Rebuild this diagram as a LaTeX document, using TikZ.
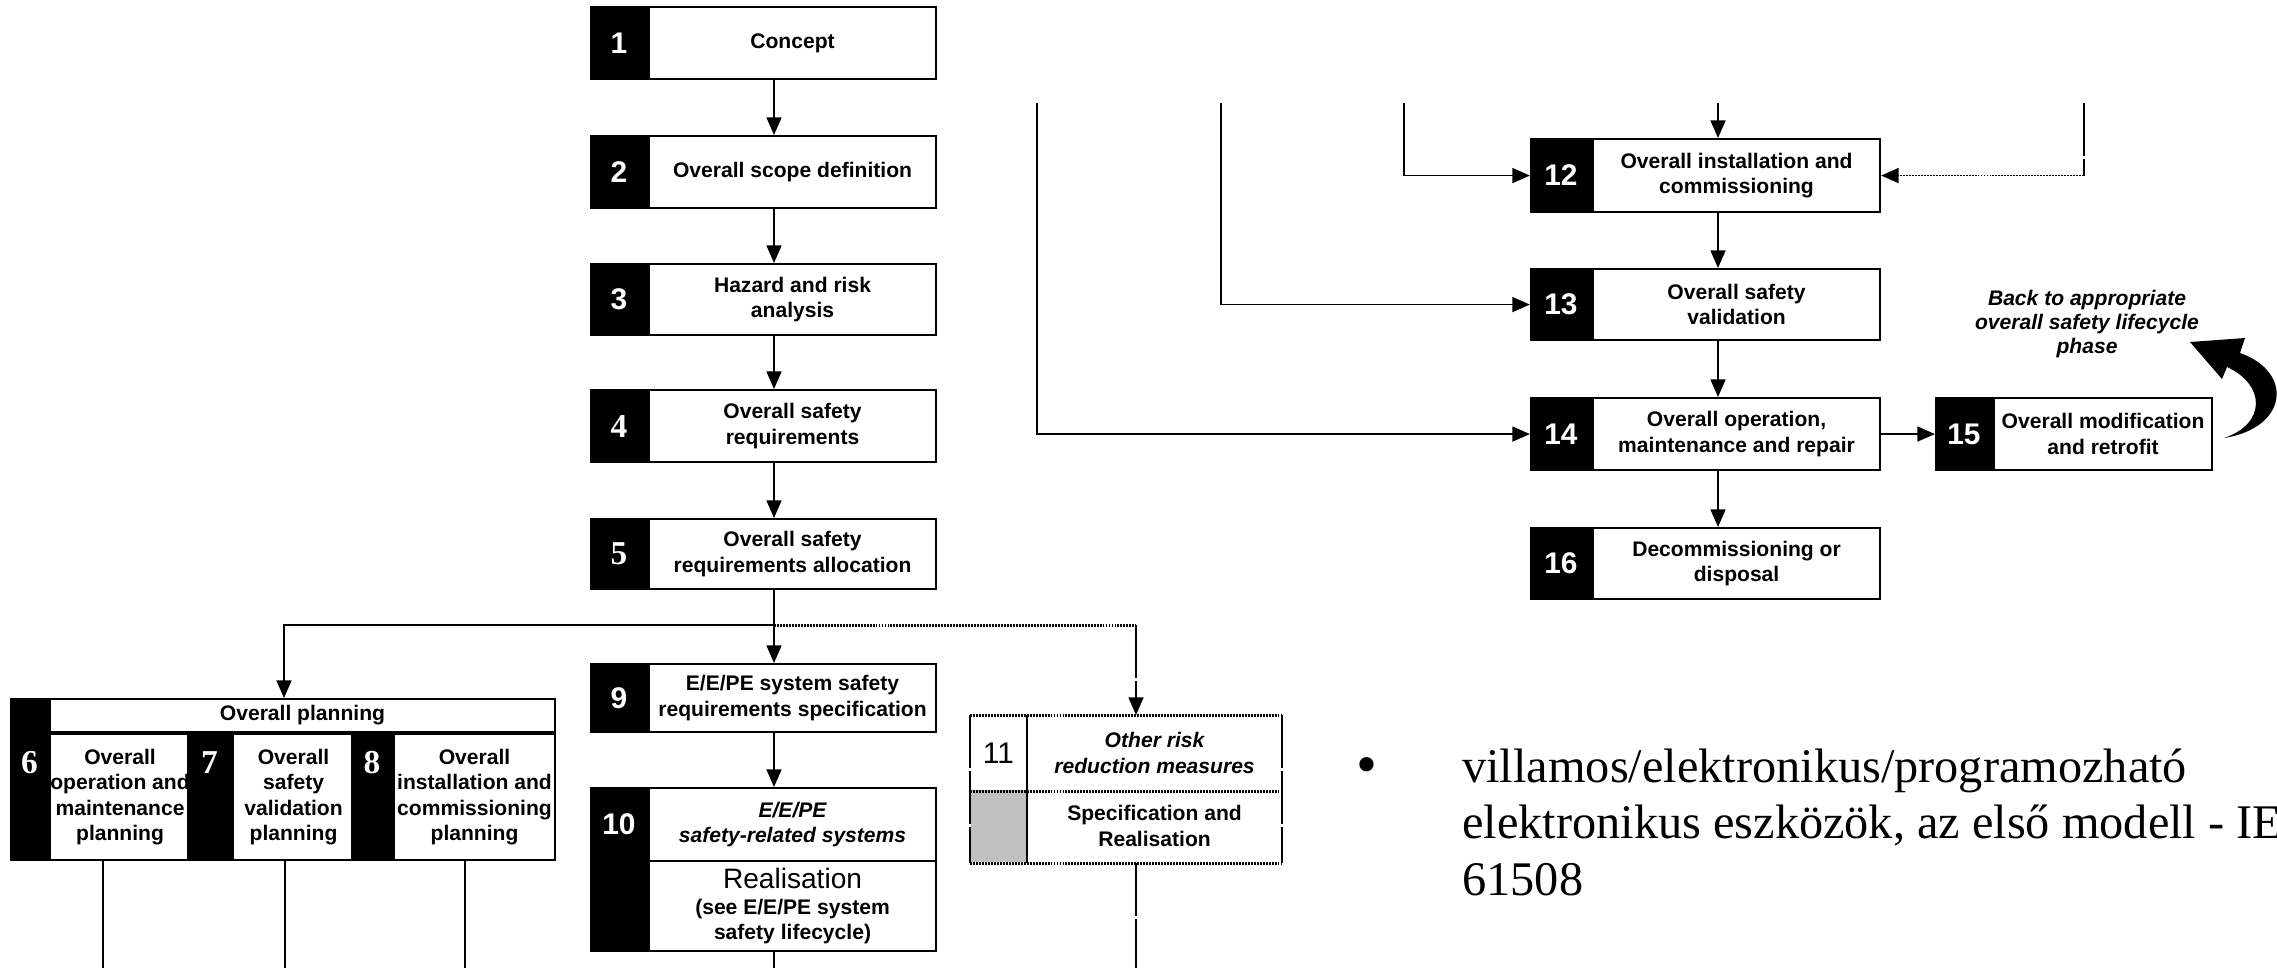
\documentclass[tikz,border=0pt]{standalone}
\usepackage{fontspec}
\setmainfont{Liberation Sans}
\newfontfamily\serifface{Liberation Serif}
\usetikzlibrary{arrows.meta,positioning}
\definecolor{cellgray}{HTML}{C0C0C0}
\begin{document}
\begin{tikzpicture}[x=0.02cm, y=-0.02cm]
  \tikzstyle{txt} = [draw, line width=1.2pt, fill=white, anchor=north west, align=center, inner sep=0pt, font=\fontsize{12}{14.5}\selectfont\bfseries]
  \tikzstyle{num} = [draw, line width=1.2pt, fill=black, text=white, anchor=north east, inner sep=0pt, font=\fontsize{17}{17}\selectfont\bfseries]
  \tikzstyle{numser} = [num, font=\fontsize{19}{19}\selectfont\serifface\bfseries]
  \tikzstyle{numlbl} = [text=white, inner sep=0pt, font=\fontsize{19}{19}\selectfont\serifface\bfseries]
  \tikzstyle{arr} = [-{Triangle[length=10pt,width=8.5pt]}, line width=1pt]
  \tikzstyle{dots} = [line width=1.7pt, dash pattern=on 1.1pt off 0.6pt]
  \tikzstyle{longdash} = [line width=1.1pt, dash pattern=on 30pt off 2pt]
  \useasboundingbox (0,0) rectangle (2277,968);

  % columns of the arrows
  \coordinate (mc) at (774,0);
  \coordinate (rc) at (1718,0);
  \coordinate (pc) at (284,0);
  \coordinate (sp) at (774,625);
  \coordinate (dc) at (1136,625);

  % phases 1-5
  \node[txt, minimum width=5.74cm, minimum height=1.44cm] (b1) at (648,6) {Concept};
  \node[num, minimum width=1.12cm, minimum height=1.44cm] (n1) at (b1.north west) {1};
  \node[txt, minimum width=5.74cm, minimum height=1.44cm] (b2) at (648,135) {Overall scope definition};
  \node[num, minimum width=1.12cm, minimum height=1.44cm] (n2) at (b2.north west) {2};
  \node[txt, minimum width=5.74cm, minimum height=1.42cm] (b3) at (648,263) {Hazard and risk\\analysis};
  \node[num, minimum width=1.12cm, minimum height=1.42cm] (n3) at (b3.north west) {3};
  \node[txt, minimum width=5.74cm, minimum height=1.44cm] (b4) at (648,389) {Overall safety\\requirements};
  \node[numser, minimum width=1.12cm, minimum height=1.44cm] (n4) at (b4.north west) {4};
  \node[txt, minimum width=5.74cm, minimum height=1.40cm] (b5) at (648,518) {Overall safety\\requirements allocation};
  \node[numser, minimum width=1.12cm, minimum height=1.40cm] (n5) at (b5.north west) {5};

  % overall planning 6-8
  \node[txt, minimum width=10.1cm, minimum height=0.66cm] (plan) at (49,698) {Overall planning};
  \node[num, minimum width=0.74cm, minimum height=0.66cm] (pk) at (plan.north west) {};
  \node[txt, minimum width=2.8cm, minimum height=2.52cm] (p6) at (49,733) {Overall\\operation and\\maintenance\\planning};
  \node[num, minimum width=0.74cm, minimum height=2.52cm] (n6) at (p6.north west) {};
  \node[numlbl, below=0.36cm of n6.north] (k6) {6};
  \node[txt, minimum width=2.42cm, minimum height=2.52cm] (p7) at (232,733) {Overall\\safety\\validation\\planning};
  \node[num, minimum width=0.86cm, minimum height=2.52cm] (n7) at (p7.north west) {};
  \node[numlbl, below=0.36cm of n7.north] (k7) {7};
  \node[txt, minimum width=3.22cm, minimum height=2.52cm] (p8) at (393,733) {Overall\\installation and\\commissioning\\planning};
  \node[num, minimum width=0.8cm, minimum height=2.52cm] (n8) at (p8.north west) {};
  \node[numlbl, below=0.36cm of n8.north] (k8) {8};

  % E/E/PE 9-10
  \node[txt, minimum width=5.74cm, minimum height=1.36cm] (b9) at (648,663) {E/E/PE system safety\\requirements specification};
  \node[num, minimum width=1.12cm, minimum height=1.36cm] (n9) at (b9.north west) {9};
  \node[txt, minimum width=5.74cm, minimum height=1.46cm, font=\fontsize{12}{14.5}\selectfont\bfseries\itshape] (b10) at (648,787) {E/E/PE\\safety-related systems};
  \node[num, minimum width=1.12cm, minimum height=1.46cm] (n10) at (b10.north west) {10};
  \node[txt, minimum width=5.74cm, minimum height=1.8cm] (b10r) at (648,860) {{\fontsize{16}{18}\selectfont\mdseries Realisation}\\(see E/E/PE system\\safety lifecycle)};
  \node[num, minimum width=1.12cm, minimum height=1.8cm] (n10r) at (b10r.north west) {};

  % other risk reduction 11
  \node[txt, draw=none, minimum width=5.06cm, minimum height=1.48cm, font=\fontsize{12}{14.5}\selectfont\bfseries\itshape] (b11) at (1027,715) {Other risk\\reduction measures};
  \node[num, draw=none, fill=white, text=black, minimum width=1.1cm, minimum height=1.48cm, font=\fontsize{17}{17}\selectfont] (n11) at (b11.north west) {11};
  \node[txt, draw=none, minimum width=5.06cm, minimum height=1.44cm] (b11s) at (1027,789) {Specification and\\Realisation};
  \node[num, draw=none, fill=cellgray, minimum width=1.1cm, minimum height=1.44cm] (n11s) at (b11s.north west) {};
  \draw[dots] (n11.north west) -- (b11.north east) (n11.south west) -- (b11.south east) (n11s.south west) -- (b11s.south east);
  \draw[longdash] (n11.north west) -- (n11s.south west) (b11.north east) -- (b11s.south east);
  \draw[line width=1pt] (b11.north west) -- (b11s.south west);

  % phases 12-16
  \node[txt, minimum width=5.74cm, minimum height=1.46cm] (b12) at (1592,138) {Overall installation and\\commissioning};
  \node[num, minimum width=1.2cm, minimum height=1.46cm] (n12) at (b12.north west) {12};
  \node[txt, minimum width=5.74cm, minimum height=1.42cm] (b13) at (1592,268) {Overall safety\\validation};
  \node[num, minimum width=1.2cm, minimum height=1.42cm] (n13) at (b13.north west) {13};
  \node[txt, minimum width=5.74cm, minimum height=1.44cm] (b14) at (1592,397) {Overall operation,\\maintenance and repair};
  \node[num, minimum width=1.2cm, minimum height=1.44cm] (n14) at (b14.north west) {14};
  \node[txt, minimum width=5.74cm, minimum height=1.42cm] (b16) at (1592,527) {Decommissioning or\\disposal};
  \node[num, minimum width=1.2cm, minimum height=1.42cm] (n16) at (b16.north west) {16};
  \node[txt, minimum width=4.36cm, minimum height=1.44cm] (b15) at (1993,397) {Overall modification\\and retrofit};
  \node[num, minimum width=1.12cm, minimum height=1.44cm] (n15) at (b15.north west) {15};
  \node[font=\fontsize{12}{13.7}\selectfont\bfseries\itshape, align=center, inner sep=0pt] (back) at (2087,324) {Back to appropriate\\overall safety lifecycle\\phase};

  % loose ends of the lines
  \coordinate (t14) at (1037,103);
  \coordinate (t13) at (1221,103);
  \coordinate (t12) at (1404,103);
  \coordinate (t12a) at (1718,103);
  \coordinate (t12b) at (2084,103);
  \coordinate (e6) at (103,968);
  \coordinate (e7) at (285,968);
  \coordinate (e8) at (465,968);
  \coordinate (e10) at (774,968);
  \coordinate (e11) at (1136,968);

  % connectors
  \draw[arr] (b1.south -| mc) -- (b2.north -| mc);
  \draw[arr] (b2.south -| mc) -- (b3.north -| mc);
  \draw[arr] (b3.south -| mc) -- (b4.north -| mc);
  \draw[arr] (b4.south -| mc) -- (b5.north -| mc);
  \draw[arr] (b5.south -| mc) -- (b9.north -| mc);
  \draw[arr] (sp) -| (plan.north -| pc);
  \draw[dots] (sp) -- (dc);
  \draw[longdash, arr] (dc) -- (b11.north -| dc);
  \draw[arr] (b9.south -| mc) -- (b10.north -| mc);
  \draw[line width=1pt] (b10r.south -| mc) -- (e10);
  \draw[longdash] (b11s.south -| dc) -- (e11);
  \draw[line width=1pt] (p6.south -| e6) -- (e6);
  \draw[line width=1pt] (p7.south -| e7) -- (e7);
  \draw[line width=1pt] (p8.south -| e8) -- (e8);

  \draw[arr] (t14) |- (n14.west);
  \draw[arr] (t13) |- (n13.west);
  \draw[arr] (t12) |- (n12.west);
  \draw[arr] (t12a) -- (b12.north -| rc);
  \draw[longdash] (t12b) -- (t12b |- b12.east);
  \draw[dots, arr] (t12b |- b12.east) -- (b12.east);
  \draw[arr] (b12.south -| rc) -- (b13.north -| rc);
  \draw[arr] (b13.south -| rc) -- (b14.north -| rc);
  \draw[arr] (b14.south -| rc) -- (b16.north -| rc);
  \draw[arr] (b14.east) -- (n15.west);

  % curved arrow back
  \fill (2224,438) .. controls (2288,428) and (2294,372) .. (2240,353) -- (2245,338) -- (2190,342) -- (2222,379) -- (2227,367) .. controls (2266,385) and (2266,424) .. (2224,438) -- cycle;

  % bullet text
  \node[anchor=base west, inner sep=0pt, font=\fontsize{34}{34}\selectfont\serifface] (bul) at (1356,784) {•};
  \node[anchor=base west, inner sep=0pt, font=\fontsize{27.5}{32}\selectfont\serifface] (ln1) at (1462,782) {villamos/elektronikus/programozható};
  \node[anchor=base west, inner sep=0pt, font=\fontsize{27.5}{32}\selectfont\serifface] (ln2) at (1462,838) {elektronikus eszközök, az első modell - IEC};
  \node[anchor=base west, inner sep=0pt, font=\fontsize{27.5}{32}\selectfont\serifface] (ln3) at (1462,895) {61508};
\end{tikzpicture}
\end{document}
